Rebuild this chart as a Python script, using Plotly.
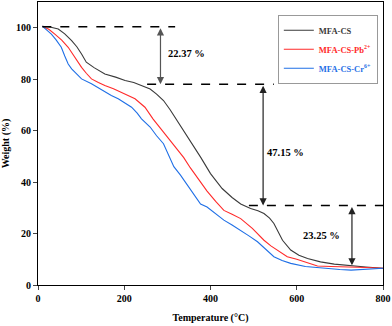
import plotly.graph_objects as go

# TGA curves (temperature in C, weight in %)
temp_cs = [10, 30, 47, 62, 78, 90, 101, 112, 130, 155, 180, 202, 222, 240, 260, 275, 291, 306, 322,
           338, 353, 377, 400, 427, 450, 470, 493, 510, 524, 537, 547, 557, 567, 586, 605, 625, 655,
           687, 726, 760, 800]
weight_cs = [100.6, 100.2, 99.5, 97.6, 95, 92.6, 89.8, 86.6, 84.5, 82, 80.8, 79.5, 78.7, 77.5, 76.2,
             74.2, 71.7, 68.2, 64, 60.2, 56.2, 49.7, 43.3, 37.5, 34, 31.5, 29.7, 28.9, 27.8, 26.0,
             23.9, 20.8, 17.4, 13.6, 11.6, 10.3, 9.0, 8.1, 7.4, 7.0, 6.5]

temp_pb = [10, 25, 39, 55, 70, 85, 101, 112, 124, 140, 155, 175, 194, 210, 225, 248, 267, 291, 306,
           322, 338, 353, 372, 392, 412, 431, 450, 470, 497, 510, 524, 540, 555, 578, 600, 617, 648,
           680, 710, 760, 800]
weight_pb = [100.6, 99.4, 97.5, 95.2, 92.4, 88.5, 84.6, 82.3, 80.1, 78.7, 77.5, 76.3, 74.9, 73.7, 72.4,
             69.1, 64.5, 59.4, 56.3, 53, 49.5, 45.6, 41.0, 36.5, 32.5, 29, 27.5, 25.8, 22, 19.8,
             17.4, 15.2, 13.6, 11, 10.0, 9, 7.4, 7.2, 7.1, 6.8, 6.5]

temp_cr = [10, 20, 31, 42, 54, 62, 70, 78, 85, 101, 124, 140, 155, 170, 186, 200, 217, 230, 240,
           260, 275, 291, 300, 315, 330, 348, 362, 377, 392, 410, 431, 450, 470, 490, 509, 528,
           547, 566, 586, 620, 663, 700, 726, 760, 800]
weight_cr = [100.6, 99.2, 97.5, 95.3, 92.4, 89.0, 85.9, 84.0, 82.7, 80.1, 78.2, 76.6, 74.9, 73.7, 72.4,
             71.0, 69.1, 66.8, 64.6, 61.4, 58.0, 54.9, 51.8, 46, 42.8, 38.5, 35.0, 31.5, 30.3, 27.8,
             25.2, 23.3, 21.3, 19.0, 16.8, 13.8, 11, 9.5, 8.4, 7.2, 6.5, 6.0, 5.8, 6.1, 6.5]

# mass-loss steps: levels, dashed-line extents, arrow positions and labels
levels = [100.4, 78.03, 30.88, 7.63]
dash_spans = [(10, 318), (253, 547), (489, 800)]
arrow_x = [284, 522, 728]
step_labels = ["22.37 %", "47.15 %", "23.25 %"]
label_pos = [(345, 90, "center"), (526, 51.5, "left"), (706, 19.4, "right")]

FONT = "Liberation Serif"

fig = go.Figure()

fig.add_trace(go.Scatter(x=temp_cs, y=weight_cs, mode="lines", name="MFA-CS",
                         line=dict(color="#3a3a3a", width=1.1)))
fig.add_trace(go.Scatter(x=temp_pb, y=weight_pb, mode="lines",
                         name="<span style='color:#ff2a2a'>MFA-CS-Pb<sup>2+</sup></span>",
                         line=dict(color="#ff2a2a", width=1.1)))
fig.add_trace(go.Scatter(x=temp_cr, y=weight_cr, mode="lines",
                         name="<span style='color:#1f6fe6'>MFA-CS-Cr<sup>6+</sup></span>",
                         line=dict(color="#1f6fe6", width=1.1)))

# dashed reference levels
for i, (x0, x1) in enumerate(dash_spans):
    fig.add_shape(type="line", x0=x0, x1=x1, y0=levels[i], y1=levels[i], xref="x", yref="y",
                  line=dict(color="black", width=1.5, dash="dash"))

# double headed arrows with their labels
for i, xa in enumerate(arrow_x):
    top, bot = levels[i], levels[i + 1]
    fig.add_annotation(x=xa, y=bot, ax=xa, ay=top, xref="x", yref="y", axref="x", ayref="y",
                       text="", showarrow=True, arrowhead=2, startarrowhead=2, arrowside="end+start",
                       arrowsize=1.2, arrowwidth=1.2, arrowcolor="#222222" if i else "#555555")
    lx, ly, anchor = label_pos[i]
    fig.add_annotation(x=lx, y=ly, xref="x", yref="y", text="<b>%s</b>" % step_labels[i],
                       showarrow=False, xanchor=anchor,
                       font=dict(family=FONT, size=10.5, color="black"))

fig.update_layout(
    width=392, height=326,
    margin=dict(l=38, r=9, t=2, b=41),
    paper_bgcolor="white", plot_bgcolor="white",
    font=dict(family=FONT, size=10, color="black"),
    showlegend=True,
    legend=dict(x=0.985, y=0.955, xanchor="right", yanchor="top",
                bgcolor="white", bordercolor="#999999", borderwidth=1,
                font=dict(family=FONT, size=8.5, color="#3a3a3a", weight="bold"),
                itemwidth=30, tracegroupgap=0),
)
fig.update_xaxes(range=[0, 800], tickvals=[0, 200, 400, 600, 800],
                 ticks="outside", ticklen=4, tickwidth=1.2,
                 showline=True, linecolor="black", linewidth=1.2, mirror=True,
                 showgrid=False, zeroline=False,
                 tickfont=dict(family=FONT, size=10, weight="bold"),
                 title=dict(text="<b>Temperature (°C)</b>", font=dict(family=FONT, size=10), standoff=10))
fig.update_yaxes(range=[0, 110], tickvals=[0, 20, 40, 60, 80, 100],
                 ticks="outside", ticklen=4, tickwidth=1.2,
                 showline=True, linecolor="black", linewidth=1.2, mirror=True,
                 showgrid=False, zeroline=False,
                 tickfont=dict(family=FONT, size=10, weight="bold"),
                 title=dict(text="<b>Weight (%)</b>", font=dict(family=FONT, size=10), standoff=6))

fig.write_html("out.html", config={"displayModeBar": False},
               post_script="document.body.style.margin='0';")
